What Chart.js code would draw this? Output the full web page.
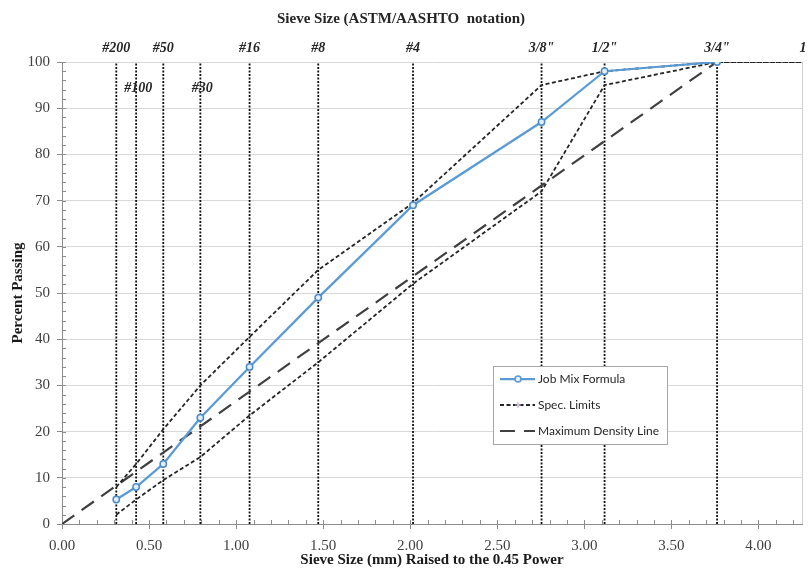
<!DOCTYPE html>
<html lang="en">
<head>
<meta charset="UTF-8">
<title>Gradation Chart - 0.45 Power</title>
<script src="https://cdn.jsdelivr.net/npm/chart.js"></script>
<style>
    html, body { margin: 0; padding: 0; background: #fff; }
    .chart-box { position: relative; width: 809px; height: 569px; }
</style>
</head>
<body>
<div class="chart-box"><canvas id="gradationChart"></canvas></div>
<script>
// Sieves (ASTM/AASHTO) and their opening in mm
const sieveLabels = ['#200', '#100', '#50', '#30', '#16', '#8', '#4', '3/8"', '1/2"', '3/4"', '1'];
const sieveMm = [0.075, 0.15, 0.3, 0.6, 1.18, 2.36, 4.75, 9.5, 12.5, 19, 25];

// Percent passing (one value per sieve)
const jobMix = [5.3, 8, 13, 23, 34, 49, 69, 87, 98, 100];
const specUpper = [8, 13, 20.5, 30, 40.5, 55, 69.5, 95, 98, 100, 100];
const specLower = [2, 5.3, 9.5, 14.5, 23.5, 35, 52, 72, 95, 100, 100];

// Maximum density line: origin to the max size sieve
const densityX = [0, 3.76];
const densityY = [0, 100];

const xTickStep = 0.5;
const yTickStep = 10;

const sieveX = sieveMm.map(d => Math.pow(d, 0.45));
const toPoints = (ys, xs) => ys.map((y, i) => ({ x: xs[i], y: y }));

const serif = "'Liberation Serif', 'Times New Roman', serif";
const lowLabels = ['#100', '#30'];

// vertical sieve lines, minor ticks, plot frame, sieve labels
const sievePlugin = {
    id: 'sieves',
    beforeDatasetsDraw(chart) {
        const { ctx, chartArea: a, scales: { x, y } } = chart;
        ctx.save();
        // right frame line
        ctx.strokeStyle = '#d0d0d0';
        ctx.lineWidth = 1;
        ctx.beginPath();
        ctx.moveTo(a.right + 0.5, a.top);
        ctx.lineTo(a.right + 0.5, a.bottom);
        ctx.stroke();
        // minor ticks
        ctx.strokeStyle = '#8c8c8c';
        ctx.beginPath();
        for (let v = 0; v <= 100; v += 2) {
            const py = Math.round(y.getPixelForValue(v)) + 0.5;
            ctx.moveTo(a.left, py);
            ctx.lineTo(a.left + 4, py);
        }
        for (let i = 1; i * 0.1 < x.max; i++) {
            const px = Math.round(x.getPixelForValue(i * 0.1)) + 0.5;
            ctx.moveTo(px, a.bottom);
            ctx.lineTo(px, a.bottom - 4);
        }
        ctx.stroke();
        // dotted sieve lines
        ctx.strokeStyle = '#111111';
        ctx.lineWidth = 1.8;
        ctx.setLineDash([2, 1.5]);
        sieveX.forEach(sx => {
            if (sx > x.max) return;
            const px = x.getPixelForValue(sx);
            ctx.beginPath();
            ctx.moveTo(px, y.getPixelForValue(0));
            ctx.lineTo(px, y.getPixelForValue(100));
            ctx.stroke();
        });
        ctx.setLineDash([]);
        // sieve labels
        ctx.fillStyle = '#262626';
        ctx.font = 'italic bold 14px ' + serif;
        ctx.textAlign = 'center';
        ctx.textBaseline = 'middle';
        sieveLabels.forEach((lab, i) => {
            const px = x.getPixelForValue(sieveX[i]);
            if (lowLabels.includes(lab)) {
                ctx.fillText(lab, px + 2, a.top + 26);
            } else {
                ctx.fillText(lab, Math.min(px, chart.width - 6), a.top - 14);
            }
        });
        ctx.restore();
    }
};

// legend box with line + marker samples
const legendPlugin = {
    id: 'lineLegend',
    afterDraw(chart) {
        const { ctx } = chart;
        const bx = 493, by = 366, bw = 174, bh = 78;
        ctx.save();
        ctx.fillStyle = '#fff';
        ctx.fillRect(bx, by, bw, bh);
        ctx.strokeStyle = '#a6a6a6';
        ctx.lineWidth = 1;
        ctx.strokeRect(bx + 0.5, by + 0.5, bw, bh);
        const rows = [by + 13, by + 39, by + 65];
        chart.data.datasets.slice(0, 3).forEach((ds, i) => {
            const ly = rows[i];
            ctx.strokeStyle = ds.borderColor;
            ctx.lineWidth = ds.borderWidth;
            ctx.setLineDash(ds.borderDash || []);
            ctx.beginPath();
            ctx.moveTo(bx + 7, ly);
            ctx.lineTo(bx + 42, ly);
            ctx.stroke();
            ctx.setLineDash([]);
            if (i === 0) {
                ctx.fillStyle = ds.pointBackgroundColor;
                ctx.lineWidth = 1.5;
                ctx.beginPath();
                ctx.arc(bx + 25, ly, 3, 0, Math.PI * 2);
                ctx.fill();
                ctx.stroke();
            } else if (i === 1) {
                ctx.strokeStyle = '#b9a8cf';
                ctx.lineWidth = 1;
                ctx.beginPath();
                ctx.moveTo(bx + 22, ly); ctx.lineTo(bx + 28, ly);
                ctx.moveTo(bx + 25, ly - 3); ctx.lineTo(bx + 25, ly + 3);
                ctx.stroke();
            }
            ctx.fillStyle = '#262626';
            ctx.font = "12px 'Lato', 'Open Sans', sans-serif";
            ctx.textAlign = 'left';
            ctx.textBaseline = 'middle';
            ctx.fillText(ds.label, bx + 45, ly);
        });
        ctx.restore();
    }
};

new Chart(document.getElementById('gradationChart'), {
    type: 'line',
    data: {
        datasets: [{
            label: 'Job Mix Formula',
            data: toPoints(jobMix, sieveX),
            borderColor: '#5b9bd5',
            borderWidth: 2.25,
            pointRadius: 3.2,
            pointBorderWidth: 1.5,
            pointBackgroundColor: '#e3eefa',
            pointBorderColor: '#4a8bc9',
            order: 0
        }, {
            label: 'Spec. Limits',
            data: toPoints(specUpper, sieveX),
            borderColor: '#262626',
            borderWidth: 1.8,
            borderDash: [4, 2.5],
            pointRadius: 0,
            order: 1
        }, {
            label: 'Maximum Density Line',
            data: toPoints(densityY, densityX),
            borderColor: '#404040',
            borderWidth: 2.2,
            borderDash: [15, 9],
            pointRadius: 0,
            order: 2
        }, {
            label: 'Spec. Limits (lower)',
            data: toPoints(specLower, sieveX),
            borderColor: '#262626',
            borderWidth: 1.8,
            borderDash: [4, 2.5],
            pointRadius: 0,
            order: 1
        }]
    },
    options: {
        responsive: true,
        maintainAspectRatio: false,
        animation: false,
        layout: { padding: { right: 7, left: 0, bottom: 0 } },
        plugins: {
            legend: { display: false },
            tooltip: { enabled: false },
            title: {
                display: true,
                text: 'Sieve Size (ASTM/AASHTO  notation)',
                color: '#262626',
                font: { family: serif, size: 15, weight: 'bold' },
                padding: { top: 10, bottom: 34 }
            }
        },
        scales: {
            x: {
                type: 'linear',
                min: 0,
                max: 4.25,
                ticks: {
                    stepSize: xTickStep,
                    includeBounds: false,
                    color: '#404040',
                    padding: 8,
                    font: { family: serif, size: 15 },
                    callback: v => v.toFixed(2)
                },
                grid: { drawOnChartArea: false, tickLength: 5, tickColor: '#8c8c8c' },
                border: { color: '#8c8c8c' },
                title: {
                    display: true,
                    text: 'Sieve Size (mm) Raised to the 0.45 Power',
                    color: '#1a1a1a',
                    font: { family: serif, size: 15, weight: 'bold' },
                    padding: { top: 1, bottom: 0 }
                },
                afterFit: s => { s.height = 45; }
            },
            y: {
                min: 0,
                max: 100,
                ticks: {
                    stepSize: yTickStep,
                    color: '#404040',
                    padding: 7,
                    font: { family: serif, size: 15 }
                },
                grid: { color: '#d9d9d9', tickLength: 5, tickColor: '#8c8c8c' },
                border: { color: '#8c8c8c' },
                title: {
                    display: true,
                    text: 'Percent Passing',
                    color: '#1a1a1a',
                    font: { family: serif, size: 15, weight: 'bold' },
                    padding: { top: 9, bottom: 0 }
                },
                afterFit: s => { s.width = 62; }
            }
        }
    },
    plugins: [sievePlugin, legendPlugin]
});
</script>
</body>
</html>
